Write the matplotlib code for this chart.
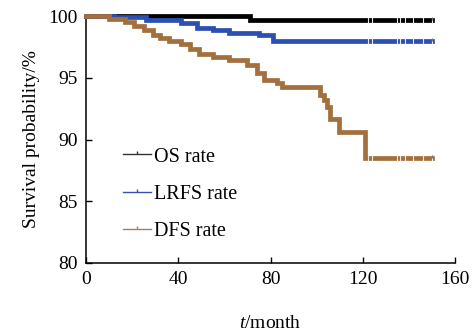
import numpy as np
import matplotlib
matplotlib.use('Agg')
import matplotlib.pyplot as plt
from matplotlib.lines import Line2D
from matplotlib.path import Path

plt.rcParams['font.family'] = ['Liberation Serif', 'DejaVu Serif']
plt.rcParams['mathtext.fontset'] = 'custom'
plt.rcParams['mathtext.rm'] = 'Liberation Serif'
plt.rcParams['mathtext.it'] = 'Liberation Serif:italic'

# step curves (month, survival %)
os_t = [0, 71, 150]
os_v = [100, 99.65, 99.65]

lrfs_t = [0, 12, 26, 41, 48, 55, 62, 75, 81, 150]
lrfs_v = [100, 99.95, 99.7, 99.4, 99.0, 98.85, 98.6, 98.5, 98.0, 98.0]

dfs_t = [0, 10, 17, 21, 25, 29, 32, 36, 41, 45, 49, 55, 62, 70, 74, 77, 83, 85,
         101.5, 103, 104.5, 106, 109.5, 121, 150]
dfs_v = [100, 99.8, 99.5, 99.2, 98.9, 98.5, 98.2, 97.95, 97.7, 97.3, 96.9, 96.7,
         96.4, 96.0, 95.4, 94.85, 94.55, 94.25, 93.6, 93.2, 92.6, 91.7, 90.6,
         88.5, 88.5]

censor_t = [122.4, 124, 134.7, 136.2, 138.3, 141.9, 146.3, 150]

names = ['OS rate', 'LRFS rate', 'DFS rate']
colors = ['#000000', '#2b4fb3', '#a36f3d']
legend_colors = ['#333333', '#3b52b5', '#9a8070']

tick_up = Path([(0, 0), (0, 1)], [Path.MOVETO, Path.LINETO])

fig = plt.figure(figsize=(4.74, 3.34), dpi=100)
ax = fig.add_axes([0.1814, 0.2126, 0.7786, 0.7394])

series = [(os_t, os_v), (lrfs_t, lrfs_v), (dfs_t, dfs_v)]
for (t, v), c in zip(series, colors):
    ax.step(t, v, where='post', color=c, lw=3.4, clip_on=False,
            solid_joinstyle='miter', zorder=3)
    idx = np.searchsorted(t, censor_t, side='right') - 1
    cy = np.array(v)[idx]
    ax.plot(censor_t, cy, ls='none', marker='|', ms=4.5, mew=0.8,
            color='#e8e8e8', clip_on=False, zorder=4)
    ax.plot([censor_t[-1]], [cy[-1]], ls='none', marker=tick_up, ms=5,
            mew=0.9, color='#777777', clip_on=False, zorder=4)

ax.set_xlim(0, 160)
ax.set_ylim(80, 100)
ax.set_xticks([0, 40, 80, 120, 160])
ax.set_yticks([80, 85, 90, 95, 100])
ax.spines['top'].set_visible(False)
ax.spines['right'].set_visible(False)
for s in ['left', 'bottom']:
    ax.spines[s].set_linewidth(1.1)
ax.tick_params(direction='in', length=4, width=1.0, labelsize=14, pad=6)

ax.set_ylabel('Survival probability/%', fontsize=14, labelpad=6)
ax.set_xlabel('$t$/month', fontsize=14, labelpad=19)

handles = [Line2D([0], [0], color=c, lw=1.0, marker=tick_up, ms=4, mew=1.0)
           for c in legend_colors]
ax.legend(handles, names, loc='upper left', bbox_to_anchor=(0.1, 0.468),
          frameon=False, fontsize=14.5, handlelength=1.4, handletextpad=0.15,
          labelspacing=0.9, borderpad=0, borderaxespad=0)

fig.savefig('out.png', dpi=100)
